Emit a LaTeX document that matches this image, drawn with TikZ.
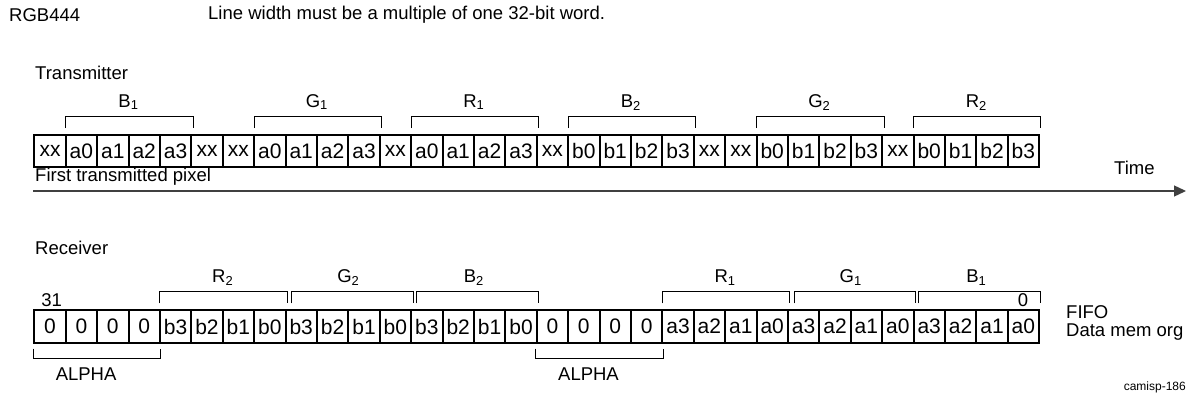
\documentclass[tikz,border=0pt]{standalone}
\usepackage{fontspec}
\setmainfont{Liberation Sans}
\usetikzlibrary{calc,arrows.meta}
\newcommand\mybrk[5]{%
  \draw[brk] ($(#1.north west)+(#3,-6)$) -- ($(#1.north west)+(#3,-18)$) -- ($(#2.north east)+(#4,-18)$) -- ($(#2.north east)+(#4,-6)$);
  \node[lbl,anchor=base] at ($(#1.north west)!0.5!(#2.north east)+(0,-27)$) {#5};}
\newcommand\alphabrk[2]{%
  \draw[brk] ($(#1.south west)+(0,5)$) -- ($(#1.south west)+(0,15)$) -- ($(#2.south east)+(0,15)$) -- ($(#2.south east)+(0,5)$);
  \node[lbl] at ($(#1.south west)!0.5!(#2.south east)+(-11,30)$) {ALPHA};}
\begin{document}
\begin{tikzpicture}[x=1pt,y=-1pt,
  cell/.style={draw,line width=2pt,minimum width=31.4pt,minimum height=32.4pt,inner sep=0pt,anchor=north west,font=\fontsize{21}{25}\selectfont},
  lbl/.style={inner sep=0pt,font=\fontsize{18.5}{22}\selectfont},
  txt/.style={lbl,anchor=west},
  brk/.style={line width=1pt},
  timeline/.style={line width=1.3pt,draw=black!75,-{Triangle[length=12pt,width=11pt]}},
]
\useasboundingbox (0,0) rectangle (1186,404);
% header
\node[txt] (rgb) at (9,15) {RGB444};
\node[txt] (hdr) at (208,15) {Line width must be a multiple of one 32-bit word.};
% transmitter
\node[txt] (tx) at (35,73) {Transmitter};
\foreach \t [count=\i from 0] in {xx,a0,a1,a2,a3,xx,xx,a0,a1,a2,a3,xx,a0,a1,a2,a3,xx,b0,b1,b2,b3,xx,xx,b0,b1,b2,b3,xx,b0,b1,b2,b3}
  \node[cell] (t\i) at ({33.3+\i*31.4},134) {\t};
\mybrk{t1}{t4}{1}{1}{B\textsubscript{1}}
\mybrk{t7}{t10}{1}{1}{G\textsubscript{1}}
\mybrk{t12}{t15}{1}{1}{R\textsubscript{1}}
\mybrk{t17}{t20}{1}{1}{B\textsubscript{2}}
\mybrk{t23}{t26}{1}{1}{G\textsubscript{2}}
\mybrk{t28}{t31}{1}{0}{R\textsubscript{2}}
\node[txt] (first) at (35,177) {First transmitted pixel};
\node[txt] (time) at (1114,168) {Time};
\coordinate (ts) at (33.3,191);
\coordinate (te) at (1186,191);
\draw[timeline] (ts) -- (te);
% receiver
\node[txt] (rx) at (35,248) {Receiver};
\foreach \t [count=\i from 0] in {0,0,0,0,b3,b2,b1,b0,b3,b2,b1,b0,b3,b2,b1,b0,0,0,0,0,a3,a2,a1,a0,a3,a2,a1,a0,a3,a2,a1,a0}
  \node[cell] (r\i) at ({33.3+\i*31.4},309.3) {\t};
\mybrk{r4}{r7}{1}{1}{R\textsubscript{2}}
\mybrk{r8}{r11}{7}{1}{G\textsubscript{2}}
\mybrk{r12}{r15}{6}{1}{B\textsubscript{2}}
\mybrk{r20}{r23}{1}{1}{R\textsubscript{1}}
\mybrk{r24}{r27}{8}{1}{G\textsubscript{1}}
\mybrk{r28}{r31}{6}{0}{B\textsubscript{1}}
\node[lbl] (msb) at (51.7,300) {31};
\node[lbl] (lsb) at (1023,300) {0};
\alphabrk{r0}{r3}
\alphabrk{r16}{r19}
\node[txt] (fifo) at (1066,312) {FIFO};
\node[txt] (dmo) at (1066,332) {Data mem org};
\node[inner sep=0pt,anchor=east,font=\fontsize{12}{14}\selectfont] (cam) at (1186,387) {camisp-186};
\end{tikzpicture}
\end{document}
